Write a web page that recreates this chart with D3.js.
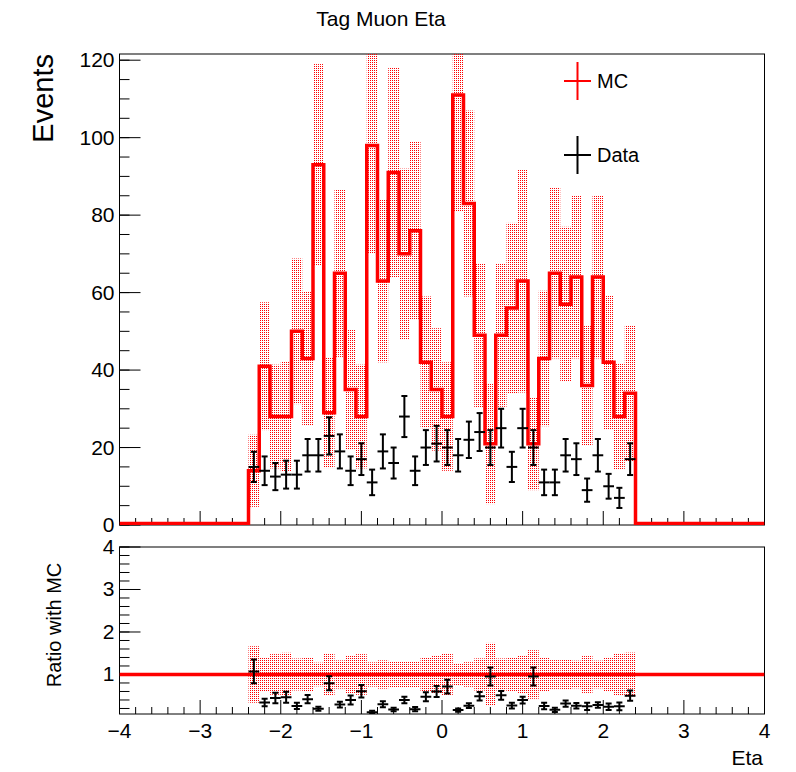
<!DOCTYPE html>
<html>
<head>
<meta charset="utf-8">
<script src="https://cdn.jsdelivr.net/npm/d3@7"></script>
<style>
body { margin: 0; background: #fff; }
text { font-family: "Liberation Sans", Arial, sans-serif; }
</style>
</head>
<body>
<svg width="796" height="772"></svg>
<script>
// 36 filled bins of width 8/60 from -2.4 to 2.4
const binLo = -2.4, binW = 8 / 60;
const mcVals = [14, 41, 28, 28, 50, 43, 93, 29, 65, 35, 28, 98, 63, 91, 70, 76, 42, 35,
                28, 111, 83, 49, 21, 49, 56, 63, 21, 43, 65, 57, 64, 36, 64, 42, 28, 34];
const mcErrs = [9.3, 16.5, 13.4, 14.3, 18.8, 17.3, 26, 14.3, 21.6, 15.6, 13.4, 28, 21, 27, 22, 23, 17, 15.8,
                14, 30, 24, 18.6, 15.6, 18.5, 22, 28.8, 12, 17.5, 22, 20, 21, 15.6, 21, 17.3, 13.8, 17.5];
const dataVals = [15, 14, 12.5, 13, 13, 18, 18, 23, 19, 14, 17, 11, 19, 16, 28, 14, 20, 21,
                  20, 18, 22, 24, 20, 25, 15, 25, 20, 11, 11, 18, 17, 9, 18, 10, 7, 17];
const dataErrs = [3.9, 3.7, 3.5, 3.6, 3.6, 4.2, 4.2, 4.8, 4.4, 3.7, 4.1, 3.3, 4.4, 4, 5.3, 3.7, 4.5, 4.6,
                  4.5, 4.2, 4.7, 4.9, 4.5, 5, 3.9, 5, 4.5, 3.3, 3.3, 4.2, 4.1, 3, 4.2, 3.2, 2.6, 4.1];
const xTicks = [-4, -3, -2, -1, 0, 1, 2, 3, 4];
const yTicksTop = [0, 20, 40, 60, 80, 100, 120];
const yTicksRatio = [1, 2, 3, 4];

const svg = d3.select("svg");
const L = 119.5, R = 764.5;
const x = d3.scaleLinear().domain([-4, 4]).range([L, R]);
const yT = d3.scaleLinear().domain([0, 121.6]).range([525, 54]);
const yR = d3.scaleLinear().domain([0.07, 4]).range([714, 547]);

const defs = svg.append("defs");
const pat = defs.append("pattern").attr("id", "dots").attr("patternUnits", "userSpaceOnUse")
    .attr("width", 2).attr("height", 2);
pat.append("rect").attr("width", 1).attr("height", 1).attr("fill", "#ff0000");
defs.append("clipPath").attr("id", "clipT").append("rect")
    .attr("x", L).attr("y", 54).attr("width", R - L).attr("height", 471);
defs.append("clipPath").attr("id", "clipR").append("rect")
    .attr("x", L).attr("y", 547).attr("width", R - L).attr("height", 167);

const bins = mcVals.map((v, i) => ({
    lo: binLo + i * binW, hi: binLo + (i + 1) * binW, c: binLo + (i + 0.5) * binW,
    mc: v, me: mcErrs[i], d: dataVals[i], de: dataErrs[i]
}));

// axes with ROOT style ticks
function axes(y, yTicks, yMinor, top, bottom, labels) {
    const g = svg.append("g");
    g.append("rect").attr("x", L).attr("y", top).attr("width", R - L).attr("height", bottom - top)
        .attr("fill", "none").attr("stroke", "#000").attr("stroke-width", 1);
    const h = bottom - top;
    d3.range(-4, 4.001, 0.2).forEach(t => {
        const major = Math.abs(t - Math.round(t)) < 1e-6;
        const len = major ? h * 0.03 + 4 : h * 0.015 + 2;
        g.append("line").attr("x1", x(t)).attr("x2", x(t)).attr("y1", bottom).attr("y2", bottom - (major ? 14 : 7))
            .attr("stroke", "#000");
    });
    yMinor.forEach(t => {
        if (y(t) < top - 0.5 || y(t) > bottom + 0.5) return;
        g.append("line").attr("x1", L).attr("x2", L + 10).attr("y1", y(t)).attr("y2", y(t)).attr("stroke", "#000");
    });
    yTicks.forEach(t => {
        g.append("line").attr("x1", L).attr("x2", L + 21).attr("y1", y(t)).attr("y2", y(t)).attr("stroke", "#000");
        g.append("text").attr("x", L - 5).attr("y", y(t) + 7).attr("text-anchor", "end")
            .attr("font-size", 21).text(t);
    });
    if (labels) {
        xTicks.forEach(t => {
            g.append("text").attr("x", x(t)).attr("y", bottom + 24).attr("text-anchor", "middle")
                .attr("font-size", 21).text(t < 0 ? "\u2212" + (-t) : t);
        });
    }
}
axes(yT, yTicksTop, d3.range(0, 122, 5), 54, 525, false);
axes(yR, yTicksRatio, d3.range(0.2, 4.01, 0.2), 547, 714, true);

// upper pad
const gT = svg.append("g").attr("clip-path", "url(#clipT)");
gT.selectAll("rect.band").data(bins).join("rect").attr("class", "band")
    .attr("x", d => x(d.lo)).attr("width", d => x(d.hi) - x(d.lo))
    .attr("y", d => yT(d.mc + d.me)).attr("height", d => yT(d.mc - d.me) - yT(d.mc + d.me))
    .attr("fill", "url(#dots)");

const step = [[-4, 0]];
bins.forEach(b => { step.push([b.lo, b.mc]); step.push([b.hi, b.mc]); });
step.push([2.4, 0]); step.push([4, 0]);
const stepPts = [[-4, 0], [binLo, 0]];
bins.forEach(b => { stepPts.push([b.lo, b.mc], [b.hi, b.mc]); });
stepPts.push([bins[bins.length - 1].hi, 0], [4, 0]);
gT.append("path").attr("d", d3.line().x(p => x(p[0])).y(p => Math.min(yT(p[1]), 523.5))(stepPts))
    .attr("fill", "none").attr("stroke", "#ff0000").attr("stroke-width", 3.5).attr("stroke-linejoin", "miter");

function drawPoints(g, y, val, err) {
    const pg = g.selectAll("g.pt").data(bins).join("g").attr("class", "pt")
        .attr("stroke", "#000").attr("stroke-width", 2);
    pg.append("line").attr("x1", d => x(d.lo)).attr("x2", d => x(d.hi))
        .attr("y1", d => y(val(d))).attr("y2", d => y(val(d)));
    pg.append("line").attr("x1", d => x(d.c)).attr("x2", d => x(d.c))
        .attr("y1", d => y(val(d) + err(d))).attr("y2", d => y(val(d) - err(d)));
    pg.append("line").attr("x1", d => x(d.c) - 3).attr("x2", d => x(d.c) + 3)
        .attr("y1", d => y(val(d) + err(d))).attr("y2", d => y(val(d) + err(d)));
    pg.append("line").attr("x1", d => x(d.c) - 3).attr("x2", d => x(d.c) + 3)
        .attr("y1", d => y(val(d) - err(d))).attr("y2", d => y(val(d) - err(d)));
}
drawPoints(gT, yT, d => d.d, d => d.de);

// lower pad (ratio)
const gR = svg.append("g").attr("clip-path", "url(#clipR)");
gR.selectAll("rect.band").data(bins).join("rect").attr("class", "band")
    .attr("x", d => x(d.lo)).attr("width", d => x(d.hi) - x(d.lo))
    .attr("y", d => yR(1 + d.me / d.mc)).attr("height", d => yR(1 - d.me / d.mc) - yR(1 + d.me / d.mc))
    .attr("fill", "url(#dots)");
gR.append("line").attr("x1", L).attr("x2", R).attr("y1", yR(1)).attr("y2", yR(1))
    .attr("stroke", "#ff0000").attr("stroke-width", 3.5);
drawPoints(gR, yR, d => d.d / d.mc, d => d.de / d.mc);

// texts
svg.append("text").attr("x", 381).attr("y", 26).attr("text-anchor", "middle").attr("font-size", 21).text("Tag Muon Eta");
svg.append("text").attr("transform", "translate(53,54) rotate(-90)").attr("text-anchor", "end")
    .attr("font-size", 29).text("Events");
svg.append("text").attr("transform", "translate(61,625) rotate(-90)").attr("text-anchor", "middle")
    .attr("font-size", 20).text("Ratio with MC");
svg.append("text").attr("x", 763).attr("y", 765).attr("text-anchor", "end").attr("font-size", 21).text("Eta");

// legend
const legend = [{ name: "MC", color: "#ff0000", y: 81 }, { name: "Data", color: "#000", y: 155 }];
legend.forEach(l => {
    svg.append("line").attr("x1", 564).attr("x2", 591).attr("y1", l.y).attr("y2", l.y).attr("stroke", l.color).attr("stroke-width", 2);
    svg.append("line").attr("x1", 577.5).attr("x2", 577.5).attr("y1", l.y - 19).attr("y2", l.y + 19).attr("stroke", l.color).attr("stroke-width", 2);
    svg.append("text").attr("x", 597).attr("y", l.y + 7).attr("font-size", 20).text(l.name);
});
</script>
</body>
</html>
